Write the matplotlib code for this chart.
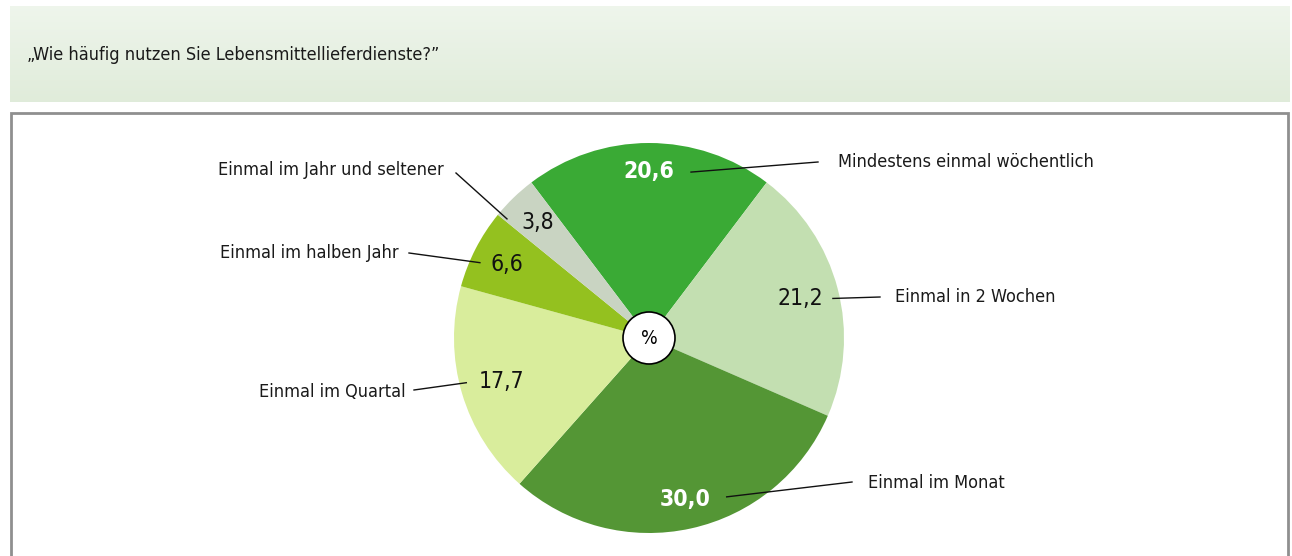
import numpy as np
import matplotlib.pyplot as plt
from matplotlib.patches import Rectangle, Circle

plt.rcParams['font.family'] = ['DejaVu Sans']
plt.rcParams['font.stretch'] = 'condensed'

title = '\u201eWie häufig nutzen Sie Lebensmittellieferdienste?\u201d'
categories = ['Mindestens einmal wöchentlich', 'Einmal in 2 Wochen', 'Einmal im Monat',
              'Einmal im Quartal', 'Einmal im halben Jahr', 'Einmal im Jahr und seltener']
values = [20.6, 21.2, 30.0, 17.7, 6.6, 3.8]
value_labels = ['20,6', '21,2', '30,0', '17,7', '6,6', '3,8']
colors = ['#3aaa35', '#c3dfb1', '#549635', '#d9ed9c', '#94c11f', '#c9d4c2']
white_bold = [True, False, True, False, False, False]

W, H = 1292, 556
fig = plt.figure(figsize=(W / 100, H / 100), dpi=100)
ax = fig.add_axes([0, 0, 1, 1])

# header band with soft gradient
grad = np.linspace(0, 1, 100).reshape(-1, 1)
c_top = np.array([0.935, 0.962, 0.925])
c_bot = np.array([0.878, 0.925, 0.855])
img = c_top + (c_bot - c_top) * grad[..., None]
ax.imshow(img, extent=(10, 1290, H - 102, H - 6), aspect='auto', zorder=0)
ax.text(27, H - 55, title, fontsize=13, va='center', ha='left', color='#1a1a1a')

# frame around chart
ax.add_patch(Rectangle((11, -10), 1277, H - 113 + 10, fill=False,
                       edgecolor='#8f8f8f', linewidth=2, zorder=1))

# pie
cx, cy, R = 649, H - 338, 195
start = 90 + values[0] / sum(values) * 360 / 2
wedges, _ = ax.pie(values, colors=colors, startangle=start, counterclock=False,
                   center=(cx, cy), radius=R, frame=True,
                   wedgeprops=dict(linewidth=0))
ax.add_patch(Circle((cx, cy), 26, facecolor='white', edgecolor='black',
                    linewidth=1.2, zorder=5))
ax.text(cx, cy, '%', fontsize=14, ha='center', va='center', zorder=6)

# value labels + leaders
rfrac = [0.856, 0.80, 0.85, 0.79, 0.82, 0.82]
lead_off = [(42, -1), (33, 0), (42, 3), (-35, -1), (-27, 2), (-31, 4)]
txt_pos = [(838, 162), (895, 297), (868, 483), (406, 392), (399, 253), (444, 170)]
lead_end = [(818, 162), (880, 297), (852, 482), (414, 390), (409, 253), (456, 173)]
for i, w in enumerate(wedges):
    ang = np.deg2rad((w.theta1 + w.theta2) / 2)
    x = cx + rfrac[i] * R * np.cos(ang)
    y = cy + rfrac[i] * R * np.sin(ang)
    ax.text(x, y, value_labels[i], fontsize=16.5, ha='center', va='center',
            color='white' if white_bold[i] else '#111111',
            fontweight='bold' if white_bold[i] else 'normal', zorder=4)
    sx, sy = x + lead_off[i][0], y + lead_off[i][1]
    ex, ey = lead_end[i][0], H - lead_end[i][1]
    ax.plot([sx, ex], [sy, ey], color='#111111', linewidth=1, zorder=3)
    tx, ty = txt_pos[i]
    ax.text(tx, H - ty, categories[i], fontsize=13, va='center',
            ha='left' if tx > cx else 'right', color='#1a1a1a')

ax.set_xlim(0, W)
ax.set_ylim(0, H)
ax.axis('off')
fig.savefig('out.png', dpi=100, facecolor='white')
